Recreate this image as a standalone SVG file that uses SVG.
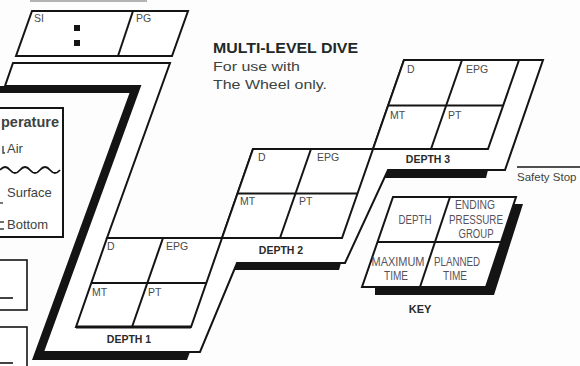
<svg xmlns="http://www.w3.org/2000/svg" width="580" height="366" viewBox="0 0 580 366">
<style>
.ln{fill:none;stroke:#141414;stroke-width:2;stroke-linejoin:miter}
.box{fill:#fff;stroke:#141414;stroke-width:2}
.sh{fill:#141414;stroke:none}
.cell{font-family:"Liberation Sans",Arial,sans-serif;font-size:10.5px;fill:#4a4a4a}
.dl{font-family:"Liberation Sans",Arial,sans-serif;font-size:10.5px;font-weight:bold;fill:#2a2a2a;text-anchor:middle}
.tt{font-family:"Liberation Sans",Arial,sans-serif;fill:#3c4340}
.key{font-family:"Liberation Sans",Arial,sans-serif;font-size:12px;fill:#55525e;text-anchor:middle}
.tick{stroke:#3c4340;stroke-width:1.4;fill:none}
</style>
<rect x="0" y="0" width="580" height="366" fill="#fdfdfd"/>

<g id="top-edge">
<line x1="30" y1="1" x2="147" y2="1" stroke="#9a9a9a" stroke-width="1.5"/>
</g>

<g id="si-pg">
<polygon class="box" points="32,11 188,11 172,56 16,56"/>
<line class="ln" x1="133" y1="11" x2="118" y2="56"/>
<text class="cell" x="34" y="22">SI</text>
<text class="cell" x="136" y="22">PG</text>
<rect x="74" y="25" width="6" height="6" fill="#141414"/>
<rect x="74" y="40" width="6" height="6" fill="#141414"/>
</g>

<g id="temperature">
<rect x="-5" y="108" width="68" height="129" fill="#fff" stroke="#141414" stroke-width="2"/>
<text class="tt" x="59" y="127" font-size="15" font-weight="bold" text-anchor="end" fill="#2a2a2a" textLength="58" lengthAdjust="spacingAndGlyphs">perature</text>
<path class="tick" d="M3,146 V153 H5"/>
<text class="tt" x="7" y="153" font-size="13">Air</text>
<path d="M0,170 q5,-6 10,0 t10,0 t10,0 t10,0 t10,0 t10,0" fill="none" stroke="#141414" stroke-width="1.8"/>
<path class="tick" d="M0,203 H3"/>
<text class="tt" x="7" y="197" font-size="13">Surface</text>
<path class="tick" d="M0,222 H4 M0,229 H4"/>
<text class="tt" x="7" y="229" font-size="13">Bottom</text>
</g>

<g id="left-boxes">
<rect x="-5" y="260" width="32" height="50" fill="#fff" stroke="#141414" stroke-width="1.6"/>
<line x1="0" y1="298" x2="13" y2="298" stroke="#141414" stroke-width="1.6"/>
<rect x="-5" y="327" width="32" height="50" fill="#fff" stroke="#141414" stroke-width="1.6"/>
<line x1="0" y1="363" x2="13" y2="363" stroke="#141414" stroke-width="1.6"/>
</g>

<g id="title">
<text x="213" y="53" font-family="'Liberation Sans',Arial,sans-serif" font-size="14.5" font-weight="bold" fill="#1f2a28" textLength="145" lengthAdjust="spacingAndGlyphs">MULTI-LEVEL DIVE</text>
<text x="213" y="71" font-family="'Liberation Sans',Arial,sans-serif" font-size="13" fill="#3c4340" textLength="87" lengthAdjust="spacingAndGlyphs">For use with</text>
<text x="213" y="89" font-family="'Liberation Sans',Arial,sans-serif" font-size="13" fill="#3c4340" textLength="114" lengthAdjust="spacingAndGlyphs">The Wheel only.</text>
</g>

<g id="connectors">
<polygon class="sh" points="0,86 140,86 43,352 190,352 187,360 32,360 129.5,93 0,93"/>
<polygon class="box" points="13,63 170,63 107,238 222,238 253,149 373,149 404,60 543,60 505,170 388,170 345,263 237,263 200,352 43,352 140,86 5,86"/>
<polygon class="sh" points="237,263 341,263 339,270 234,270"/>
<polygon class="sh" points="388,170 488,170 486,178 384.5,178"/>
<line x1="517" y1="167" x2="580" y2="167" stroke="#141414" stroke-width="1.6"/>
<text x="517" y="181" font-family="'Liberation Sans',Arial,sans-serif" font-size="11.5" fill="#3c4340">Safety Stop</text>
</g>

<g id="depth1">
<polygon class="box" points="107,238 222,238 191,327 76,327"/>
<line x1="76" y1="327" x2="191" y2="327" stroke="#141414" stroke-width="2.8"/>
<line class="ln" x1="91.5" y1="283" x2="206.5" y2="283"/>
<line class="ln" x1="163" y1="238" x2="132" y2="327"/>
<text class="cell" x="107" y="250">D</text>
<text class="cell" x="166" y="250">EPG</text>
<text class="cell" x="92" y="296">MT</text>
<text class="cell" x="148" y="296">PT</text>
<text class="dl" x="129" y="343">DEPTH 1</text>
</g>

<g id="depth2">
<polygon class="box" points="253,149 373,149 342,238 222,238"/>
<line class="ln" x1="237.5" y1="193.5" x2="357.5" y2="193.5"/>
<line class="ln" x1="311" y1="149" x2="280" y2="238"/>
<text class="cell" x="258" y="161">D</text>
<text class="cell" x="317" y="161">EPG</text>
<text class="cell" x="240" y="205">MT</text>
<text class="cell" x="299" y="205">PT</text>
<text class="dl" x="281" y="254">DEPTH 2</text>
</g>

<g id="depth3">
<polygon class="box" points="404,60 519,60 488,149 373,149"/>
<line class="ln" x1="388" y1="105.5" x2="503" y2="105.5"/>
<line class="ln" x1="462" y1="60" x2="431" y2="149"/>
<text class="cell" x="407" y="73">D</text>
<text class="cell" x="466" y="73">EPG</text>
<text class="cell" x="390" y="119">MT</text>
<text class="cell" x="448" y="119">PT</text>
<text class="dl" x="428" y="163">DEPTH 3</text>
</g>

<g id="key">
<polygon class="sh" points="514,204 523,204 494,295 375,295 375,287 486,287"/>
<polygon class="box" points="393,197 516,197 486,287 362,287"/>
<line class="ln" x1="377.5" y1="242" x2="500.5" y2="242"/>
<line class="ln" x1="450" y1="197" x2="420" y2="287"/>
<text class="key" x="415" y="224" textLength="33" lengthAdjust="spacingAndGlyphs">DEPTH</text>
<text class="key" x="475" y="209" textLength="40" lengthAdjust="spacingAndGlyphs">ENDING</text>
<text class="key" x="476" y="224" textLength="54" lengthAdjust="spacingAndGlyphs">PRESSURE</text>
<text class="key" x="476" y="238" textLength="35" lengthAdjust="spacingAndGlyphs">GROUP</text>
<text class="key" x="398" y="266" textLength="53" lengthAdjust="spacingAndGlyphs">MAXIMUM</text>
<text class="key" x="396" y="280" textLength="24" lengthAdjust="spacingAndGlyphs">TIME</text>
<text class="key" x="457" y="266" textLength="46" lengthAdjust="spacingAndGlyphs">PLANNED</text>
<text class="key" x="455" y="280" textLength="24" lengthAdjust="spacingAndGlyphs">TIME</text>
<text x="420" y="313" font-family="'Liberation Sans',Arial,sans-serif" font-size="11" font-weight="bold" fill="#2a2a2a" text-anchor="middle">KEY</text>
</g>
</svg>
